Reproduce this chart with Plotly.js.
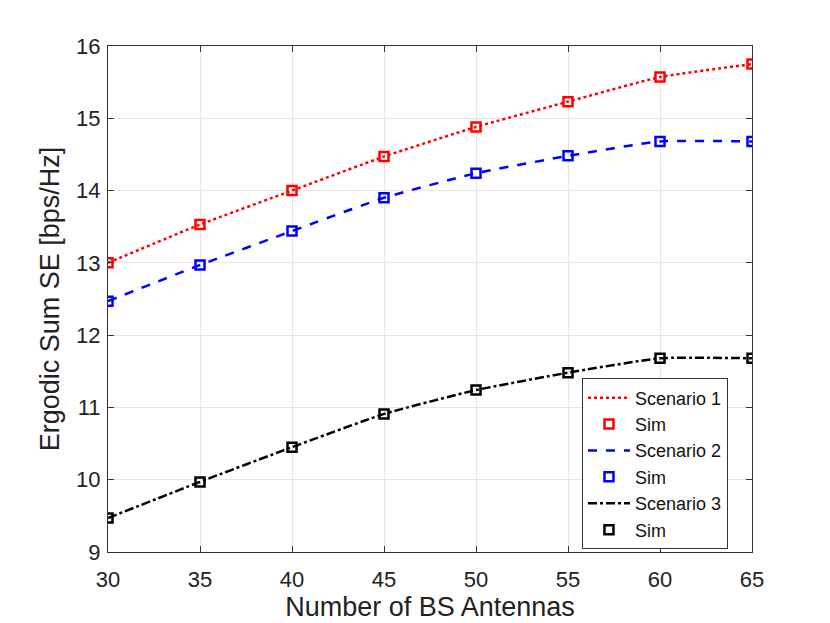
<!DOCTYPE html>
<html><head><meta charset="utf-8">
<script src="https://cdn.plot.ly/plotly-3.0.1.min.js"></script>
<style>body{margin:0;background:#fff}#c{width:830px;height:623px}</style>
</head><body><div id="c"></div>
<script>
const antennas = [30, 35, 40, 45, 50, 55, 60, 65];
const scenario1 = [13.0, 13.53, 14.0, 14.47, 14.88, 15.23, 15.57, 15.75];
const scenario2 = [12.47, 12.97, 13.44, 13.9, 14.24, 14.48, 14.68, 14.68];
const scenario3 = [9.47, 9.97, 10.45, 10.91, 11.24, 11.48, 11.68, 11.68];
const seriesNames = ['Scenario 1', 'Scenario 2', 'Scenario 3'];
const simName = 'Sim';

const colors = ['#ff0000', '#0000ff', '#000000'];
const dashes = ['dot', 'dash', 'dashdot'];
const ys = [scenario1, scenario2, scenario3];
const traces = [];
ys.forEach((y, i) => {
  traces.push({x: antennas, y: y, mode: 'lines', name: seriesNames[i],
    line: {color: colors[i], width: 2.5, dash: dashes[i], shape: 'spline', smoothing: 0.45}});
  traces.push({x: antennas, y: y, mode: 'markers', name: simName,
    marker: {symbol: 'square-open', size: 9, color: colors[i], line: {width: 2.5, color: colors[i]}}});
});

const FONT = 'Liberation Sans, Arial, Helvetica, sans-serif';
const axisCommon = {
  showgrid: true, gridcolor: '#e6e6e6', gridwidth: 1,
  showline: true, linecolor: '#333', linewidth: 1, mirror: 'ticks',
  ticks: 'inside', ticklen: 6, tickcolor: '#333', zeroline: false,
  tickfont: {family: FONT, size: 22, color: '#222'}
};

const layout = {
  width: 830, height: 623,
  margin: {l: 108, r: 78, t: 46, b: 71},
  paper_bgcolor: '#fff', plot_bgcolor: '#fff',
  showlegend: true,
  font: {family: FONT, color: '#222'},
  xaxis: Object.assign({}, axisCommon, {range: [30, 65], dtick: 5, tick0: 30, ticklabelstandoff: 8,
    title: {text: 'Number of BS Antennas', font: {family: FONT, size: 27, color: '#222'}, standoff: 4}}),
  yaxis: Object.assign({}, axisCommon, {range: [9, 16], dtick: 1, tick0: 9, ticklabelstandoff: 2,
    title: {text: 'Ergodic Sum SE [bps/Hz]', font: {family: FONT, size: 27, color: '#222'}, standoff: 8}}),
  legend: {x: 0.736, y: 0.174, xanchor: 'left', yanchor: 'middle',
    bgcolor: '#fff', bordercolor: '#333', borderwidth: 1,
    font: {family: FONT, size: 18, color: '#111'}, tracegroupgap: 0, itemwidth: 42}
};

Plotly.newPlot('c', traces, layout, {displayModeBar: false, staticPlot: true});
</script>
</body></html>
